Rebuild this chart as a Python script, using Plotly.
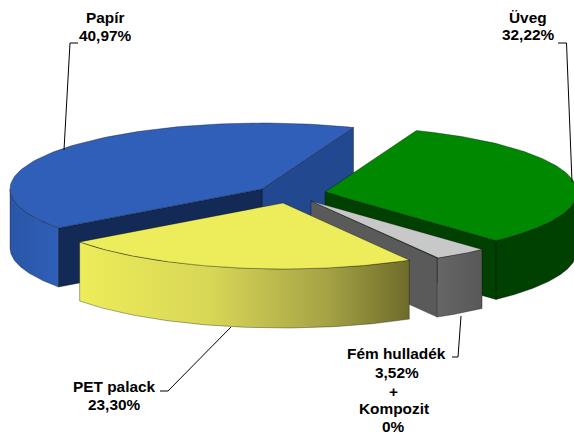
import math
import plotly.graph_objects as go

# --- data ---
categories = ["Papír", "PET palack", "Fém hulladék", "Üveg"]
shares = [40.97, 23.30, 3.52, 32.22]
label_values = ["40,97%", "23,30%", "3,52%", "32,22%"]
extra_category = "Kompozit"
extra_value = "0%"

# --- projection / layout (pixel space of the 574x434 page) ---
W, H = 574, 434
RX, RY, DEPTH = 252, 66, 59
START_T = 68.7   # angle where the first slice starts, counter-clockwise
APEX = {"Papír": (262, 189), "PET palack": (283, 203), "Fém hulladék": (311, 201), "Üveg": (325, 192)}
EDGE = "rgba(0,0,0,0.55)"
fig = go.Figure()


def pt(apex, t):
    r = math.radians(t)
    return apex[0] + RX * math.cos(r), apex[1] - RY * math.sin(r)


def arc(apex, t0, t1, n=90):
    return [pt(apex, t0 + (t1 - t0) * i / n) for i in range(n + 1)]


def poly(points, fill=None, gradient=None, edge=EDGE, width=0.6):
    xs = [p[0] for p in points] + [points[0][0]]
    ys = [p[1] for p in points] + [points[0][1]]
    kw = dict(fillgradient=gradient) if gradient else dict(fillcolor=fill)
    fig.add_trace(go.Scatter(x=xs, y=ys, mode="lines", fill="toself", hoverinfo="skip",
                             line=dict(color=edge, width=width), showlegend=False, **kw))


def down(points):
    return [(x, y + DEPTH) for x, y in points]


def wall_radial(apex, t, fill):
    p = pt(apex, t)
    poly([apex, p, (p[0], p[1] + DEPTH), (apex[0], apex[1] + DEPTH)], fill)


def wall_arc(apex, t0, t1, fill=None, gradient=None):
    a = arc(apex, t0, t1)
    poly(a + down(a)[::-1], fill, gradient)


def hgrad(stops):
    return dict(type="horizontal", colorscale=stops)


# slice angle ranges from the data
ranges = {}
t = START_T
for name, share in zip(categories, shares):
    ranges[name] = (t, t + share * 3.6)
    t += share * 3.6

# Papír
n = "Papír"; a = APEX[n]; t0, t1 = ranges[n]
wall_radial(a, t0, "#22488F")
wall_arc(a, 180, t1, gradient=hgrad([[0, "#2A56A6"], [1, "#2F5FB8"]]))
wall_radial(a, t1, "#132A57")
poly([a] + arc(a, t0, t1), "#2F5FB8")

# Üveg
n = "Üveg"; a = APEX[n]; t0, t1 = ranges[n]
wall_arc(a, t0, 360, "#004000")
wall_radial(a, t0, "#004000")
poly([a] + arc(a, t0, t1), "#008800")

# Fém hulladék
n = "Fém hulladék"; a = APEX[n]; t0, t1 = ranges[n]
wall_radial(a, t0, "#5A5A5A")
wall_arc(a, t0, t1, gradient=hgrad([[0, "#666666"], [1, "#585858"]]))
poly([a] + arc(a, t0, t1), "#C8C8C8")

# PET palack
n = "PET palack"; a = APEX[n]; t0, t1 = ranges[n]
wall_arc(a, t0, t1, gradient=hgrad([[0, "#EDEC5A"], [0.4, "#D8D656"], [0.75, "#A5A345"], [1, "#6E6B2A"]]))
poly([a] + arc(a, t0, t1), "#EDEC5A")

# leader lines
leaders = [
    [(64, 150), (70, 43), (78, 43)],
    [(572, 182), (566.5, 43), (558, 43)],
    [(461, 316), (458, 357), (452, 357)],
    [(231, 327), (168, 391), (160, 391)],
]
for pts in leaders:
    fig.add_trace(go.Scatter(x=[p[0] for p in pts], y=[p[1] for p in pts], mode="lines",
                             line=dict(color="black", width=1), hoverinfo="skip", showlegend=False))

FONT = dict(family="Liberation Sans, Arial, sans-serif", size=15.4, color="black")
labels = [
    (105.5, 17, categories[0]), (105.5, 35, label_values[0]),
    (528, 17, categories[3]), (528, 34, label_values[3]),
    (114, 386, categories[1]), (114, 404, label_values[1]),
    (396.5, 353, categories[2]), (397, 372, label_values[2]),
    (393.5, 391, "+"), (393.5, 408, extra_category), (393.5, 426, extra_value),
]
for x, y, text in labels:
    fig.add_annotation(x=x, y=y, text=f"<b>{text}</b>", showarrow=False, font=FONT, align="center",
                       xanchor="center", yanchor="middle")

fig.update_layout(
    width=W, height=H, margin=dict(l=0, r=0, t=0, b=0), paper_bgcolor="white", plot_bgcolor="white",
    xaxis=dict(range=[0, W], visible=False, fixedrange=True),
    yaxis=dict(range=[H, 0], visible=False, fixedrange=True),
    showlegend=False,
)
fig.write_html("out.html", config=dict(displayModeBar=False),
               post_script="document.body.style.margin='0';document.body.style.overflow='hidden';")
